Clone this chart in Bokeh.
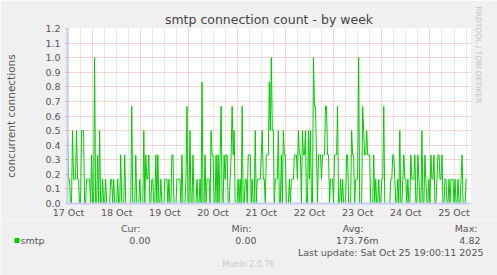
from bokeh.plotting import figure
from bokeh.models import FixedTicker, Grid, Range1d, NumeralTickFormatter, Title
from bokeh.core.properties import value
from bokeh.embed import file_html
from bokeh.resources import INLINE

# ---------------- data ----------------
day_labels = ["17 Oct", "18 Oct", "19 Oct", "20 Oct", "21 Oct",
              "22 Oct", "23 Oct", "24 Oct", "25 Oct"]
y_ticks = [0.0, 0.1, 0.2, 0.3, 0.4, 0.5, 0.6, 0.7, 0.8, 0.9, 1.0, 1.1, 1.2]

start_hour = 11.5      # first sample, hours after 17 Oct 00:00
step_hours = 0.5       # 30 minute samples
end_hour = 212.2       # right edge of graph

# concurrent connections, in sixths, one list per 48 samples
day1 = [3, 1, 1, 0, 0, 3, 1, 1, 1, 3, 1, 1, 0, 0, 3, 3, 3, 0, 0, 1,
        1, 1, 1, 0, 2, 0, 0, 6, 0, 0, 2, 0, 3, 0, 0, 1, 0, 0, 1, 0,
        0, 0, 0, 1, 1, 0, 1, 0]
day2 = [0, 0, 1, 0, 0, 2, 0, 0, 0, 2, 0, 0, 0, 0, 0, 0, 4, 0, 0, 0,
        2, 0, 0, 0, 1, 0, 0, 0, 3, 0, 2, 1, 1, 2, 0, 0, 1, 1, 0, 0,
        2, 0, 2, 0, 0, 1, 0, 0]
day3 = [0, 1, 1, 1, 0, 1, 0, 0, 2, 2, 0, 0, 0, 1, 1, 1, 1, 0, 2, 0,
        0, 0, 1, 4, 0, 0, 3, 0, 0, 2, 0, 0, 0, 1, 0, 0, 1, 0, 5, 0,
        0, 2, 0, 1, 1, 1, 0, 3]
day4 = [2, 2, 0, 0, 2, 0, 2, 0, 2, 4, 0, 0, 2, 1, 2, 2, 0, 0, 1, 2,
        4, 2, 3, 0, 0, 0, 1, 0, 1, 0, 4, 0, 0, 1, 1, 0, 2, 2, 2, 0,
        1, 0, 0, 3, 0, 1, 1, 1]
day5 = [1, 2, 3, 1, 1, 0, 2, 2, 2, 5, 3, 6, 3, 3, 0, 1, 1, 1, 3, 0,
        0, 2, 0, 3, 2, 2, 0, 0, 0, 1, 0, 1, 1, 1, 2, 2, 2, 1, 3, 2,
        2, 0, 3, 2, 2, 3, 0, 0]
day6 = [3, 1, 3, 0, 0, 6, 4, 4, 2, 0, 2, 2, 2, 1, 2, 2, 2, 4, 4, 2,
        2, 0, 1, 1, 1, 0, 2, 2, 2, 4, 0, 0, 1, 0, 1, 0, 0, 0, 2, 2,
        0, 0, 0, 3, 2, 2, 0, 1]
day7 = [1, 1, 6, 0, 0, 0, 4, 3, 2, 2, 3, 2, 2, 2, 0, 0, 0, 2, 0, 1,
        0, 0, 1, 0, 0, 1, 1, 4, 0, 0, 0, 0, 0, 0, 1, 1, 2, 2, 1, 0,
        0, 1, 0, 3, 0, 0, 1, 2]
day8 = [1, 1, 0, 1, 0, 0, 2, 1, 1, 1, 2, 0, 0, 2, 1, 0, 0, 3, 0, 0,
        2, 1, 0, 0, 1, 0, 2, 1, 1, 2, 0, 0, 1, 2, 2, 1, 1, 2, 0, 0,
        1, 1, 0, 0, 1, 0, 1, 1]
day9 = [1, 0, 1, 0, 0, 1, 0, 0, 1, 2, 0, 0, 0, 1, 1]

sixths = day1 + day2 + day3 + day4 + day5 + day6 + day7 + day8 + day9
values = [k / 6.0 for k in sixths]
hours = [start_hour + step_hours * i for i in range(len(values))]

legend_name = "smtp"
stat_titles = ["Cur:", "Min:", "Avg:", "Max:"]
stat_values = ["0.00", "0.00", "173.76m", "4.82"]
title_text = "smtp connection count - by week"
ylabel_text = "concurrent connections"
update_text = "Last update: Sat Oct 25 19:00:11 2025"
footer_text = "Munin 2.0.76"
side_text = "RRDTOOL / TOBI OETIKER"

# ---------------- main figure ----------------
W = 497
HA, HB = 220, 55
FL, FR, FT, FB = 67, 470, 28, 203   # frame edges in canvas pixels
FONT = "DejaVu Sans"
TXT = "#555555"
BG = "#f0f0f0"

p = figure(width=W, height=HA, output_backend="svg", toolbar_location=None,
           x_range=Range1d(start_hour, end_hour), y_range=Range1d(0, 1.2),
           min_border_left=FL, min_border_right=W - FR, min_border_top=FT,
           min_border_bottom=HA - FB, background_fill_color="white",
           border_fill_color=BG, outline_line_color=None)

p.title.text = title_text
p.title.text_font = FONT
p.title.text_font_size = "12.5px"
p.title.text_font_style = "normal"
p.title.text_color = "#444444"
p.title.align = "center"
p.title.offset = -19
p.title.standoff = 3

side = Title(text=side_text, text_font=FONT, text_font_size="7.5px",
             text_font_style="normal", text_color="#c4c4c4", align="left",
             offset=-22, standoff=6)
p.add_layout(side, "right")

noons = [12 + 24 * d for d in range(len(day_labels))]
midnights = [24 * d for d in range(1, len(day_labels) + 1)]
six_hours = [6 * h for h in range(0, 40) if (6 * h) % 24 != 0]

# grids
p.xgrid.visible = False
p.ygrid.visible = False
g_minor = Grid(dimension=0, ticker=FixedTicker(ticks=six_hours),
               grid_line_color="#d2d2d2", grid_line_dash="1 1", grid_line_width=1)
g_major = Grid(dimension=0, ticker=FixedTicker(ticks=midnights),
               grid_line_color="#eaa6a6", grid_line_dash="1 1", grid_line_width=1)
g_y = Grid(dimension=1, ticker=FixedTicker(ticks=y_ticks),
           grid_line_color="#eaa6a6", grid_line_dash="1 1", grid_line_width=1)
for g in (g_minor, g_major, g_y):
    p.add_layout(g)

# axes
p.yaxis.ticker = FixedTicker(ticks=y_ticks)
p.yaxis.formatter = NumeralTickFormatter(format="0.0")
p.xaxis.ticker = FixedTicker(ticks=noons)
p.xaxis.major_label_overrides = {n: lab for n, lab in zip(noons, day_labels)}
for ax in (p.xaxis[0], p.yaxis[0]):
    ax.axis_line_color = "#c8cdf5"
    ax.axis_line_width = 2
    ax.minor_tick_line_color = None
    ax.major_label_text_font = FONT
    ax.major_label_text_font_size = "9.5px"
    ax.major_label_text_color = TXT
p.xaxis.major_tick_line_color = None
p.xaxis.major_tick_out = 0
p.xaxis.major_tick_in = 0
p.xaxis.major_label_standoff = 3
p.yaxis.major_tick_line_color = "#e8a0a0"
p.yaxis.major_tick_out = 2
p.yaxis.major_tick_in = 0
p.yaxis.major_label_standoff = 5
p.yaxis.axis_label = ylabel_text
p.yaxis.axis_label_text_font = FONT
p.yaxis.axis_label_text_font_size = "10.5px"
p.yaxis.axis_label_text_font_style = "normal"
p.yaxis.axis_label_text_color = TXT
p.yaxis.axis_label_standoff = 25

# data line
p.line(hours, values, line_color="#00cc00", line_width=1)

# ---------------- legend / footer strip ----------------
q = figure(width=W, height=HB, output_backend="svg", toolbar_location=None,
           x_range=Range1d(0, W), y_range=Range1d(HB, 0),
           min_border_left=0, min_border_right=0, min_border_top=0,
           min_border_bottom=0, background_fill_color=BG,
           border_fill_color=BG, outline_line_color=None)
q.axis.visible = False
q.grid.visible = False


def put(texts, xs, ys, align, size="9.5px", color=TXT):
    q.text(x=xs, y=ys, text=texts, text_font=value(FONT),
           text_font_size=value(size), text_color=color,
           text_align=align, text_baseline="middle")


# legend swatch for the series
q.rect(x=[16.5], y=[20], width=5, height=5, fill_color="#00cc00",
       line_color=None)
put([legend_name], [20], [20], "left")
put(stat_titles, [140, 251, 363, 477], [8] * 4, "right")
put(stat_values, [150, 256, 378, 480], [20] * 4, "right")
put([update_text], [483], [32], "right")
put([footer_text], [248], [44], "center", size="8px", color="#c8c8c8")

open("out.html", "w").write(file_html([p, q], INLINE))
